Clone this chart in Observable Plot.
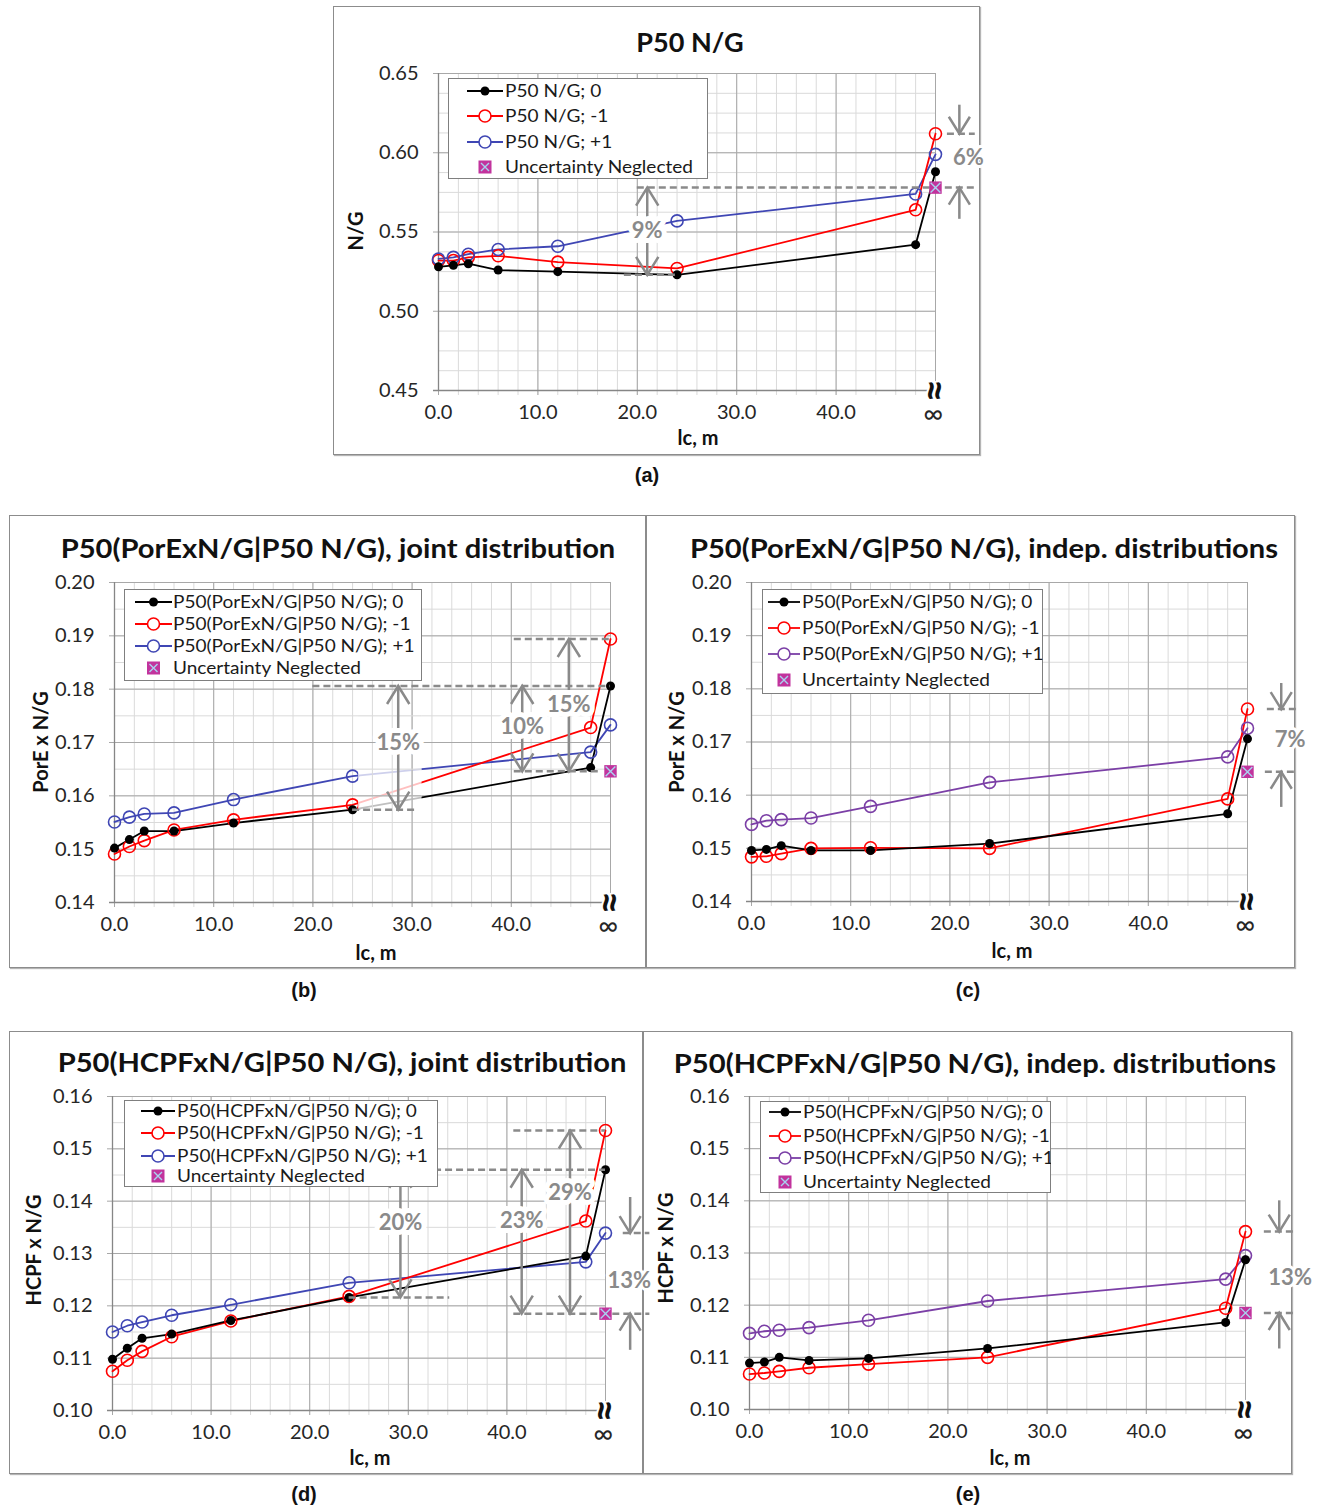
<!DOCTYPE html>
<html><head><meta charset="utf-8">
<script src="https://cdn.jsdelivr.net/npm/d3@7"></script>
<script src="https://cdn.jsdelivr.net/npm/@observablehq/plot@0.6"></script>
<style>
body{margin:0;background:#fff;}
#page{position:relative;width:1319px;height:1511px;background:#fff;overflow:hidden;font-family:Lato,"Open Sans",sans-serif;color:#111;}
.frame{position:absolute;border:1.5px solid #8c8c8c;box-shadow:1px 1px 1px #b5b5b5;background:#fff;box-sizing:border-box;}
.abs{position:absolute;white-space:nowrap;line-height:1;}
.title{font-weight:700;font-size:26px;transform:translate(-50%,-50%) scaleX(1.12);color:#111;}
.title.short{transform:translate(-50%,-50%) scaleX(1.04);}
.xlab{font-weight:700;font-size:20px;transform:translate(-50%,-50%);}
.ylab{font-weight:700;font-size:20px;transform:translate(-50%,-50%) rotate(-90deg);}
.cap{font-family:"Liberation Sans",Arial,sans-serif;font-weight:700;font-size:20px;transform:translate(-50%,-50%);}
.legend{border:1.5px solid #7f7f7f;background:#fff;box-sizing:border-box;}
</style></head><body><div id="page"></div>
<script>
// ---------- data ----------
const lc = [0, 1.5, 3, 6, 12, 24, 48, 50];           // 50 = position of "∞"
const xTickValues = [0, 10, 20, 30, 40, 50];
const xTickLabels = ["0.0", "10.0", "20.0", "30.0", "40.0", "∞"];

const yTicksNG = [0.45, 0.50, 0.55, 0.60, 0.65];
const yTicksPor = [0.14, 0.15, 0.16, 0.17, 0.18, 0.19, 0.20];
const yTicksHC = [0.10, 0.11, 0.12, 0.13, 0.14, 0.15, 0.16];

// (a) P50 N/G
const a_zero  = [0.528, 0.529, 0.530, 0.526, 0.525, 0.523, 0.542, 0.588];
const a_minus = [0.532, 0.532, 0.534, 0.535, 0.531, 0.527, 0.564, 0.612];
const a_plus  = [0.533, 0.534, 0.536, 0.539, 0.541, 0.557, 0.574, 0.599];
const a_neg = 0.578;

// (b) PorE x N/G, joint
const b_zero  = [0.1502, 0.1518, 0.1534, 0.1534, 0.1549, 0.1574, 0.1653, 0.1806];
const b_minus = [0.1491, 0.1505, 0.1516, 0.1536, 0.1555, 0.1583, 0.1728, 0.1894];
const b_plus  = [0.1551, 0.1560, 0.1566, 0.1568, 0.1593, 0.1637, 0.1682, 0.1733];
const b_neg = 0.1646;

// (c) PorE x N/G, indep.
const c_zero  = [0.1496, 0.1498, 0.1505, 0.1496, 0.1496, 0.1509, 0.1565, 0.1706];
const c_minus = [0.1484, 0.1485, 0.1490, 0.1500, 0.1501, 0.1500, 0.1593, 0.1762];
const c_plus  = [0.1545, 0.1552, 0.1554, 0.1557, 0.1579, 0.1624, 0.1672, 0.1726];
const c_neg = 0.1644;

// (d) HCPF x N/G, joint
const d_zero  = [0.1098, 0.1119, 0.1138, 0.1146, 0.1172, 0.1216, 0.1295, 0.1460];
const d_minus = [0.1075, 0.1096, 0.1113, 0.1141, 0.1171, 0.1218, 0.1362, 0.1535];
const d_plus  = [0.1150, 0.1162, 0.1169, 0.1182, 0.1202, 0.1244, 0.1284, 0.1339];
const d_neg = 0.1185;

// (e) HCPF x N/G, indep.
const e_zero  = [0.1089, 0.1091, 0.1100, 0.1094, 0.1098, 0.1117, 0.1167, 0.1287];
const e_minus = [0.1068, 0.1070, 0.1073, 0.1080, 0.1087, 0.1100, 0.1194, 0.1341];
const e_plus  = [0.1146, 0.1150, 0.1152, 0.1157, 0.1171, 0.1208, 0.1250, 0.1295];
const e_neg = 0.1185;

const titles = {
  a: "P50 N/G",
  b: "P50(PorExN/G|P50 N/G), joint distribution",
  c: "P50(PorExN/G|P50 N/G), indep. distributions",
  d: "P50(HCPFxN/G|P50 N/G), joint distribution",
  e: "P50(HCPFxN/G|P50 N/G), indep. distributions"
};
const yLabels = {a: "N/G", b: "PorE x N/G", c: "PorE x N/G", d: "HCPF x N/G", e: "HCPF x N/G"};
const seriesNames = {
  a: ["P50 N/G; 0", "P50 N/G; -1", "P50 N/G; +1"],
  b: ["P50(PorExN/G|P50 N/G); 0", "P50(PorExN/G|P50 N/G); -1", "P50(PorExN/G|P50 N/G); +1"],
  c: ["P50(PorExN/G|P50 N/G); 0", "P50(PorExN/G|P50 N/G); -1", "P50(PorExN/G|P50 N/G); +1"],
  d: ["P50(HCPFxN/G|P50 N/G); 0", "P50(HCPFxN/G|P50 N/G); -1", "P50(HCPFxN/G|P50 N/G); +1"],
  e: ["P50(HCPFxN/G|P50 N/G); 0", "P50(HCPFxN/G|P50 N/G); -1", "P50(HCPFxN/G|P50 N/G); +1"]
};
const neglectedName = "Uncertainty Neglected";

// annotations (levels taken from the series)
const annotations = {
  a: {dashed: [[a_neg, 20, 54], [a_zero[5], 18.7, 24], [a_minus[7], 51.2, 54]],
      double: [{x: 21, lo: a_zero[5], hi: a_neg, label: "9%", ly: 0.5505}],
      out: {x: 52.4, hi: a_minus[7], lo: a_neg, top: 0.630, bot: 0.558, label: "6%", lx: 53.3, ly: 0.597}},
  b: {fade: {x1: 24.6, x2: 31.0, y1: b_zero[5], y2: b_zero[7]},
      dashed: [[b_zero[7], 20, 50], [b_zero[5], 24, 30.6], [b_neg, 40.3, 49], [b_minus[7], 40.3, 50]],
      double: [{x: 28.6, lo: b_zero[5], hi: b_zero[7], label: "15%", ly: 0.1700},
               {x: 41.1, lo: b_neg, hi: b_zero[7], label: "10%", ly: 0.1730},
               {x: 45.8, lo: b_neg, hi: b_minus[7], label: "15%", ly: 0.1770}]},
  c: {dashed: [[c_minus[7], 52.0, 55], [c_neg, 51.8, 55]],
      double: [],
      out: {x: 53.4, hi: c_minus[7], lo: c_neg, top: 0.1810, bot: 0.1577, label: "7%", lx: 54.3, ly: 0.1704}},
  d: {dashed: [[d_zero[7], 28.2, 50], [d_zero[5], 24, 34.2], [d_neg, 40.7, 54.5], [d_minus[7], 40.7, 50], [d_plus[7], 51.8, 54.5]],
      double: [{x: 29.2, lo: d_zero[5], hi: d_zero[7], label: "20%", ly: 0.1359},
               {x: 41.5, lo: d_neg, hi: d_zero[7], label: "23%", ly: 0.1362},
               {x: 46.4, lo: d_neg, hi: d_minus[7], label: "29%", ly: 0.1415}],
      out: {x: 52.5, hi: d_plus[7], lo: d_neg, top: 0.1407, bot: 0.1115, label: "13%", lx: 52.4, ly: 0.1248}},
  e: {dashed: [[e_minus[7], 51.9, 55.2], [e_neg, 51.9, 55.2]],
      double: [],
      out: {x: 53.4, hi: e_minus[7], lo: e_neg, top: 0.1400, bot: 0.1116, label: "13%", lx: 54.5, ly: 0.1253}}
};

// ---------- layout ----------
const layout = {
  a: {frame: [333, 6, 647, 449], x0: 438, x50: 935, yTop: 73, yBot: 390, yDomain: [0.45, 0.65], minorStep: 0.0125,
      title: [690, 42], ylab: [355, 231], xlab: [698, 437], cap: [647, 475],
      legend: {l: 448, t: 78, w: 260, h: 101, rows: [13, 38, 64, 89], sx1: 19, sx2: 55, tx: 57}},
  b: {frame: [9, 515, 637, 453], x0: 114, x50: 610, yTop: 582, yBot: 902, yDomain: [0.14, 0.20], minorStep: 0.005,
      title: [338, 548], ylab: [40, 742], xlab: [376, 952], cap: [304, 990],
      legend: {l: 124, t: 589, w: 298, h: 92, rows: [13, 35, 57, 79], sx1: 11, sx2: 48, tx: 49}},
  c: {frame: [646, 515, 649, 453], x0: 751, x50: 1247, yTop: 582, yBot: 901, yDomain: [0.14, 0.20], minorStep: 0.005,
      title: [984, 548], ylab: [676, 742], xlab: [1012, 950], cap: [968, 990],
      legend: {l: 762, t: 589, w: 281, h: 105, rows: [13, 39, 65, 91], sx1: 6, sx2: 38, tx: 40}},
  d: {frame: [9, 1031, 634, 443], x0: 112, x50: 605, yTop: 1096, yBot: 1410, yDomain: [0.10, 0.16], minorStep: 0.005,
      title: [342, 1062], ylab: [33, 1250], xlab: [370, 1457], cap: [304, 1494],
      legend: {l: 124, t: 1100, w: 314, h: 87, rows: [11, 33, 56, 76], sx1: 17, sx2: 51, tx: 53}},
  e: {frame: [643, 1031, 649, 443], x0: 749, x50: 1245, yTop: 1096, yBot: 1409, yDomain: [0.10, 0.16], minorStep: 0.005,
      title: [975, 1063], ylab: [665, 1248], xlab: [1010, 1457], cap: [968, 1494],
      legend: {l: 760, t: 1101, w: 291, h: 92, rows: [11, 35, 57, 81], sx1: 9, sx2: 41, tx: 43}}
};

const panels = {
  a: {series: [a_zero, a_minus, a_plus], neg: a_neg, yTicks: yTicksNG, plusColor: "#3f46b4"},
  b: {series: [b_zero, b_minus, b_plus], neg: b_neg, yTicks: yTicksPor, plusColor: "#3f46b4"},
  c: {series: [c_zero, c_minus, c_plus], neg: c_neg, yTicks: yTicksPor, plusColor: "#7b3fa6"},
  d: {series: [d_zero, d_minus, d_plus], neg: d_neg, yTicks: yTicksHC, plusColor: "#3f46b4"},
  e: {series: [e_zero, e_minus, e_plus], neg: e_neg, yTicks: yTicksHC, plusColor: "#7b3fa6"}
};

const RED = "#ff0000", BLACK = "#000000", GREY = "#8a8a8a", MAGENTA = "#c2339d";
const MINOR = "#dadada", MAJOR = "#a8a8a8";
const breakX = 48.5;

const chevUp = {draw(ctx, size) { const r = Math.sqrt(size / Math.PI), w = 0.62 * r;
  ctx.moveTo(-w, r); ctx.lineTo(0, 0); ctx.lineTo(w, r); }};
const chevDown = {draw(ctx, size) { const r = Math.sqrt(size / Math.PI), w = 0.62 * r;
  ctx.moveTo(-w, -r); ctx.lineTo(0, 0); ctx.lineTo(w, -r); }};

const page = document.getElementById("page");
function addDiv(cls, x, y, text) {
  const d = document.createElement("div");
  d.className = "abs " + cls;
  d.style.left = x + "px"; d.style.top = y + "px";
  if (text != null) d.textContent = text;
  page.appendChild(d);
  return d;
}

// frames first
for (const k of Object.keys(layout)) {
  const [l, t, w, h] = layout[k].frame;
  const f = addDiv("frame", l, t);
  f.style.width = w + "px"; f.style.height = h + "px";
}

function drawPanel(k) {
  const L = layout[k], P = panels[k], A = annotations[k];
  const [l, t, w, h] = L.frame;
  const [ymin, ymax] = L.yDomain;
  const pts = vals => lc.map((x, i) => ({x, y: vals[i]}));
  const xMinor = d3.range(0, 50.001, 2);
  const yMinor = d3.range(ymin, ymax + 1e-9, L.minorStep);
  const [zero, minus, plus] = P.series;
  const dbl = A.double || [];
  const numTicks = xTickValues.slice(0, -1);
  const infTick = xTickValues.slice(-1);
  const marks = [
    Plot.ruleX(xMinor, {stroke: MINOR, insetBottom: -5}),
    Plot.ruleY(yMinor, {stroke: MINOR}),
    Plot.ruleX(xTickValues, {stroke: MAJOR, insetBottom: -5}),
    Plot.ruleY(P.yTicks, {stroke: MAJOR, insetLeft: -5}),
    Plot.ruleX([0], {stroke: "#868686", strokeWidth: 1.3}),
    Plot.ruleY([ymin], {stroke: "#868686", strokeWidth: 1.3, insetLeft: -5}),
    Plot.text(P.yTicks, {y: d => d, text: d => d.toFixed(2), frameAnchor: "left", dx: -20, textAnchor: "end", fontSize: 20, fill: "#262626"}),
    Plot.text(numTicks, {x: d => d, text: (d, i) => xTickLabels[i], frameAnchor: "bottom", dy: 28, fontSize: 20, fill: "#262626"}),
    Plot.text(infTick, {x: d => d, text: () => xTickLabels[xTickLabels.length - 1], frameAnchor: "bottom", dx: -2, dy: 32, fontSize: 27, fill: "#262626"}),
    Plot.text([breakX], {x: d => d, text: () => "≈", frameAnchor: "bottom", rotate: 90, fontSize: 40, fontWeight: "bold", fill: "#111", stroke: "white", strokeWidth: 4, paintOrder: "stroke"}),
    // data
    Plot.line(pts(plus), {x: "x", y: "y", stroke: P.plusColor, strokeWidth: 1.8}),
    Plot.line(pts(minus), {x: "x", y: "y", stroke: RED, strokeWidth: 1.8}),
    Plot.line(pts(zero), {x: "x", y: "y", stroke: BLACK, strokeWidth: 1.8}),
    Plot.dot(pts(minus), {x: "x", y: "y", r: 6, stroke: RED, strokeWidth: 1.6, fill: "none"}),
    Plot.dot(pts(plus), {x: "x", y: "y", r: 6, stroke: P.plusColor, strokeWidth: 1.6, fill: "none"}),
    Plot.dot(pts(zero), {x: "x", y: "y", r: 4.5, fill: BLACK})
  ];
  if (A.fade) {
    const F = A.fade;
    marks.push(
      Plot.rect([F], {x1: "x1", x2: "x2", y1: "y1", y2: "y2", fill: "white", fillOpacity: 0.75}),
      // grid shows through the faded area
      Plot.ruleX(xMinor.filter(v => v >= F.x1 && v <= F.x2), {y1: F.y1, y2: F.y2, stroke: MINOR}),
      Plot.ruleX(xTickValues.filter(v => v >= F.x1 && v <= F.x2), {y1: F.y1, y2: F.y2, stroke: MAJOR}),
      Plot.ruleY(yMinor.filter(v => v >= F.y1 && v <= F.y2), {x1: F.x1, x2: F.x2, stroke: MINOR}),
      Plot.ruleY(P.yTicks.filter(v => v >= F.y1 && v <= F.y2), {x1: F.x1, x2: F.x2, stroke: MAJOR})
    );
  }
  marks.push(
    Plot.ruleY(A.dashed, {y: d => d[0], x1: d => d[1], x2: d => d[2], stroke: GREY, strokeWidth: 2.5, strokeDasharray: "7,4"}),
    Plot.ruleX(dbl, {x: "x", y1: "lo", y2: "hi", stroke: GREY, strokeWidth: 2.5}),
    Plot.dot(dbl, {x: "x", y: "hi", symbol: chevUp, r: 18, stroke: GREY, strokeWidth: 2.5, fill: "none"}),
    Plot.dot(dbl, {x: "x", y: "lo", symbol: chevDown, r: 18, stroke: GREY, strokeWidth: 2.5, fill: "none"}),
    Plot.text(dbl, {x: "x", y: "ly", text: "label", fontSize: 22, fontWeight: "bold", fill: GREY, stroke: "white", strokeWidth: 10, paintOrder: "stroke"})
  );
  if (A.out) {
    const o = [A.out];
    marks.push(
      Plot.ruleX(o, {x: "x", y1: "top", y2: "hi", stroke: GREY, strokeWidth: 2.5}),
      Plot.ruleX(o, {x: "x", y1: "bot", y2: "lo", stroke: GREY, strokeWidth: 2.5}),
      Plot.dot(o, {x: "x", y: "hi", symbol: chevDown, r: 17, stroke: GREY, strokeWidth: 2.5, fill: "none"}),
      Plot.dot(o, {x: "x", y: "lo", symbol: chevUp, r: 17, stroke: GREY, strokeWidth: 2.5, fill: "none"}),
      Plot.text(o, {x: "lx", y: "ly", text: "label", fontSize: 22, fontWeight: "bold", fill: GREY, stroke: "white", strokeWidth: 6, paintOrder: "stroke"})
    );
  }
  marks.push(
    Plot.dot([{x: 50, y: P.neg}], {x: "x", y: "y", symbol: "square", r: 7, fill: MAGENTA}),
    Plot.dot([{x: 50, y: P.neg}], {x: "x", y: "y", symbol: "times", r: 4.5, stroke: "#a9d2f0", strokeWidth: 1.4})
  );
  const svg = Plot.plot({
    width: w, height: h,
    marginLeft: L.x0 - l, marginRight: l + w - L.x50,
    marginTop: L.yTop - t, marginBottom: t + h - L.yBot,
    x: {domain: [0, 50], axis: null},
    y: {domain: [ymin, ymax], axis: null},
    style: {fontFamily: "Lato, 'Open Sans', sans-serif", fontSize: "20px", background: "transparent", overflow: "visible"},
    marks
  });
  svg.style.position = "absolute";
  svg.style.left = l + "px";
  svg.style.top = t + "px";
  svg.style.background = "transparent";
  svg.style.overflow = "visible";
  svg.style.maxWidth = "none";
  page.appendChild(svg);

  addDiv("title" + (k === "a" ? " short" : ""), L.title[0], L.title[1], titles[k]);
  addDiv("ylab", L.ylab[0], L.ylab[1], yLabels[k]);
  addDiv("xlab", L.xlab[0], L.xlab[1], "lc, m");
  addDiv("cap", L.cap[0], L.cap[1], "(" + k + ")");

  // legend
  const G = L.legend;
  const ld = addDiv("legend", G.l, G.t);
  ld.style.width = G.w + "px"; ld.style.height = G.h + "px";
  const ls = d3.select(ld).append("svg").attr("width", G.w).attr("height", G.h)
    .style("position", "absolute").style("left", "-1.5px").style("top", "-1.5px")
    .style("font-family", "Lato, 'Open Sans', sans-serif").style("font-size", "17px");
  const entries = [
    {label: seriesNames[k][0], color: BLACK, filled: true},
    {label: seriesNames[k][1], color: RED},
    {label: seriesNames[k][2], color: P.plusColor},
    {label: neglectedName, neglected: true}
  ];
  const cx = (G.sx1 + G.sx2) / 2;
  entries.forEach((e, i) => {
    const g = ls.append("g").attr("transform", `translate(0,${G.rows[i]})`);
    if (e.neglected) {
      g.append("rect").attr("x", cx - 6.5).attr("y", -6.5).attr("width", 13).attr("height", 13).attr("fill", MAGENTA);
      g.append("path").attr("d", `M${cx-4},-4L${cx+4},4M${cx-4},4L${cx+4},-4`).attr("stroke", "#a9d2f0").attr("stroke-width", 1.4);
    } else {
      g.append("line").attr("x1", G.sx1).attr("x2", G.sx2).attr("stroke", e.color).attr("stroke-width", 1.8);
      if (e.filled) g.append("circle").attr("cx", cx).attr("r", 4.5).attr("fill", e.color);
      else g.append("circle").attr("cx", cx).attr("r", 6).attr("fill", "white").attr("stroke", e.color).attr("stroke-width", 1.6);
    }
    const tx = g.append("text").attr("x", G.tx).attr("dy", "0.35em").attr("fill", "#1a1a1a").text(e.label);
    const node = tx.node();
    const len = node.getComputedTextLength();
    if (len > 0) tx.attr("textLength", (len * 1.12).toFixed(1)).attr("lengthAdjust", "spacingAndGlyphs");
  });
}

["a", "b", "c", "d", "e"].forEach(drawPanel);
</script></body></html>
